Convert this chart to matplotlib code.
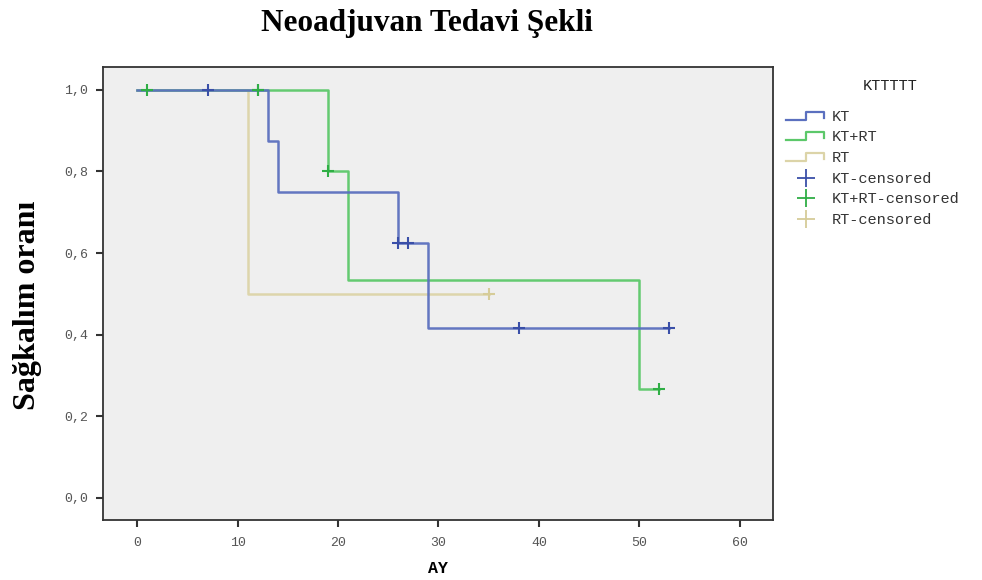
import numpy as np
import matplotlib
matplotlib.use("Agg")
import matplotlib.pyplot as plt
from matplotlib.lines import Line2D

# Kaplan-Meier step curves (time in months, survival fraction)
kt_time = [0, 13, 14, 26, 29, 53]
kt_surv = [1.0, 0.875, 0.75, 0.625, 0.4167, 0.4167]
kt_cens_time = [7, 12, 26, 27, 38, 53]
kt_cens_surv = [1.0, 1.0, 0.625, 0.625, 0.4167, 0.4167]

ktrt_time = [0, 19, 21, 50, 52]
ktrt_surv = [1.0, 0.8, 0.5333, 0.2667, 0.2667]
ktrt_cens_time = [1, 12, 19, 52]
ktrt_cens_surv = [1.0, 1.0, 0.8, 0.2667]

rt_time = [0, 11, 35]
rt_surv = [1.0, 0.5, 0.5]
rt_cens_time = [35]
rt_cens_surv = [0.5]

group_labels = ["KT", "KT+RT", "RT"]
legend_title = "KTTTTT"
x_ticks = [0, 10, 20, 30, 40, 50, 60]
y_ticks = [0.0, 0.2, 0.4, 0.6, 0.8, 1.0]

line_colors = ["#5b70bf", "#5cc86a", "#dcd4a8"]
mark_colors = ["#3a4fa8", "#2fae45", "#d6cc98"]
mono = "Liberation Mono"

fig = plt.figure(figsize=(9.82, 5.80), dpi=100)
ax = fig.add_axes([0.105, 0.1034, 0.682, 0.7811])
ax.set_facecolor("#efefef")

curves = [
    (kt_time, kt_surv, kt_cens_time, kt_cens_surv),
    (ktrt_time, ktrt_surv, ktrt_cens_time, ktrt_cens_surv),
    (rt_time, rt_surv, rt_cens_time, rt_cens_surv),
]
for i, (t, s, ct, cs) in enumerate(curves):
    ax.step(t, s, where="post", color=line_colors[i], linewidth=1.8,
            alpha=0.95, zorder=3 - i * 0.5)
    ax.plot(ct, cs, linestyle="none", marker="+", markersize=9,
            markeredgewidth=1.5, color=mark_colors[i], zorder=4)

ax.set_xlim(-3.4, 63.3)
ax.set_ylim(-0.054, 1.056)
ax.set_xticks(x_ticks)
ax.set_yticks(y_ticks)
ax.set_yticklabels([f"{v:.1f}".replace(".", ",") for v in y_ticks])
ax.tick_params(direction="out", length=5, width=1.5, color="#333333",
               labelcolor="#555555", labelsize=9.5)
ax.tick_params(axis="x", pad=7)
ax.tick_params(axis="y", pad=6)
for lab in ax.get_xticklabels() + ax.get_yticklabels():
    lab.set_family(mono)
for sp in ax.spines.values():
    sp.set_color("#333333")
    sp.set_linewidth(1.3)

ax.set_xlabel("AY", fontsize=12, fontweight="bold", family=mono,
              labelpad=9)
fig.text(0.028, 0.474, "Sağkalım oranı", rotation=90, ha="center", va="center",
         fontsize=23, fontweight="bold", family="Liberation Serif")
fig.text(0.435, 0.960, "Neoadjuvan Tedavi Şekli", ha="center", va="center",
         fontsize=22.5, fontweight="bold", family="Liberation Serif")

# legend drawn in pixel coordinates on an overlay axes
lg = fig.add_axes([0, 0, 1, 1], zorder=5)
lg.set_xlim(0, 982)
lg.set_ylim(580, 0)
lg.axis("off")
lg.text(890, 86, legend_title, ha="center", va="center", fontsize=11,
        family=mono, color="#222222")
step_rows = [116, 136, 157]
for i, yy in enumerate(step_rows):
    lg.add_line(Line2D([786, 806, 806, 824, 824], [yy + 4, yy + 4, yy - 4, yy - 4, yy + 2],
                       color=line_colors[i], linewidth=1.6))
    lg.text(832, yy + 1, group_labels[i], va="center", fontsize=11,
            family=mono, color="#333333")
cens_rows = [178, 198, 219]
for i, yy in enumerate(cens_rows):
    lg.plot([806], [yy], marker="+", markersize=13, markeredgewidth=1.3,
            color=mark_colors[i])
    lg.text(832, yy + 1, group_labels[i] + "-censored", va="center",
            fontsize=11, family=mono, color="#333333")

fig.savefig("out.png", dpi=100)
